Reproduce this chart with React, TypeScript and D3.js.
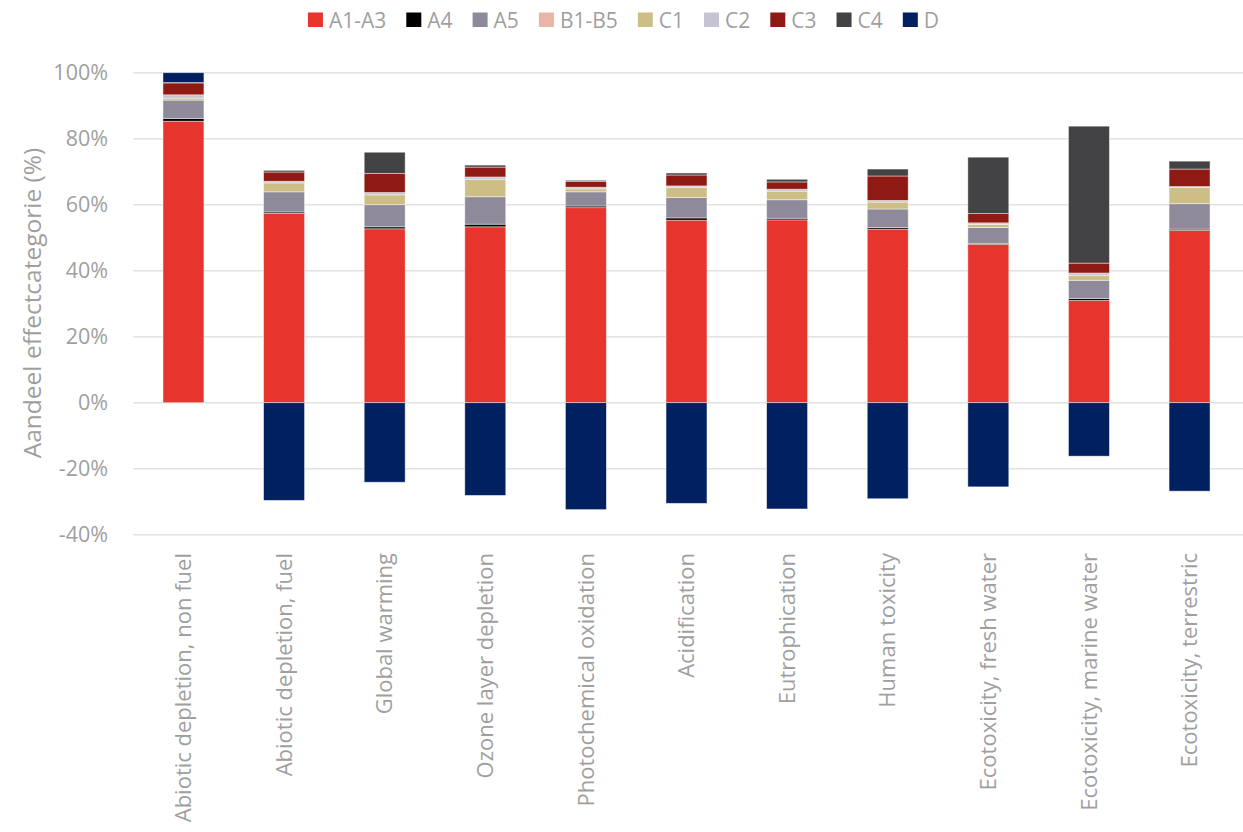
import React, { useEffect, useRef } from 'react';
import * as d3 from 'd3';

const categories = [
  'Abiotic depletion, non fuel',
  'Abiotic depletion, fuel',
  'Global warming',
  'Ozone layer depletion',
  'Photochemical oxidation',
  'Acidification',
  'Eutrophication',
  'Human toxicity',
  'Ecotoxicity, fresh water',
  'Ecotoxicity, marine water',
  'Ecotoxicity, terrestric',
];

const seriesNames = ['A1-A3', 'A4', 'A5', 'B1-B5', 'C1', 'C2', 'C3', 'C4', 'D'];

const a1a3 = [85.3, 57.4, 52.7, 53.3, 59.1, 55.3, 55.4, 52.6, 48.0, 31.0, 52.2];
const a4 = [0.8, 0.4, 0.6, 0.8, 0.5, 0.7, 0.5, 0.5, 0.3, 0.6, 0.4];
const a5 = [5.6, 6.1, 6.7, 8.3, 4.3, 6.2, 5.6, 5.6, 4.8, 5.5, 7.7];
const b1b5 = [0, 0, 0, 0, 0, 0, 0, 0, 0, 0, 0];
const c1 = [0.6, 2.7, 3.0, 5.2, 0.9, 3.0, 2.6, 2.1, 0.9, 1.4, 4.9];
const c2 = [1.0, 0.5, 0.7, 0.8, 0.5, 0.5, 0.6, 0.5, 0.5, 0.8, 0.3];
const c3 = [3.6, 2.8, 5.8, 3.0, 1.8, 3.3, 2.2, 7.4, 2.8, 3.0, 5.3];
const c4 = [0.1, 0.5, 6.4, 0.6, 0.3, 0.6, 0.8, 2.1, 17.1, 41.5, 2.4];
const dValues = [3.0, -29.6, -24.1, -28.1, -32.4, -30.5, -32.2, -29.1, -25.5, -16.2, -26.8];

const yTicks = [-40, -20, 0, 20, 40, 60, 80, 100];

const colors = ['#e7352d', '#000000', '#8e8a9a', '#e8b5a6', '#ccbe85', '#c6c4d3', '#8f1913', '#434345', '#002060'];

const FONT = '"Open Sans", "Segoe UI", sans-serif';
const TEXT_COLOR = '#9f9f9f';

const App = () => {
  const ref = useRef<SVGSVGElement | null>(null);

  useEffect(() => {
    const svg = d3.select(ref.current);
    svg.selectAll('*').remove();

    const width = 1243;
    const height = 832;
    svg.attr('width', width).attr('height', height);

    const seriesValues = [a1a3, a4, a5, b1b5, c1, c2, c3, c4, dValues];
    const rows = categories.map((cat, i) => {
      const row: Record<string, number | string> = { category: cat };
      seriesNames.forEach((s, k) => (row[s] = seriesValues[k][i]));
      return row;
    });

    const x = d3
      .scaleBand()
      .domain(categories)
      .range([133, 1240])
      .paddingInner(0.593)
      .paddingOuter(0.298);

    const y = d3.scaleLinear().domain([-40, 100]).range([534.7, 72.7]);

    // gridlines
    svg
      .append('g')
      .selectAll('line')
      .data(yTicks)
      .enter()
      .append('line')
      .attr('x1', 133)
      .attr('x2', width)
      .attr('y1', (d) => y(d))
      .attr('y2', (d) => y(d))
      .attr('stroke', '#e2e2e2')
      .attr('stroke-width', 1.5);

    // y tick labels
    svg
      .append('g')
      .selectAll('text')
      .data(yTicks)
      .enter()
      .append('text')
      .attr('x', 108)
      .attr('y', (d) => y(d))
      .attr('dy', '0.36em')
      .attr('text-anchor', 'end')
      .attr('font-family', FONT)
      .attr('font-size', 21.5)
      .attr('fill', TEXT_COLOR)
      .text((d) => `${d}%`);

    // y title
    svg
      .append('text')
      .attr('transform', `translate(32,303) rotate(-90)`)
      .attr('dy', '0.35em')
      .attr('text-anchor', 'middle')
      .attr('font-family', FONT)
      .attr('font-size', 24.5)
      .attr('fill', TEXT_COLOR)
      .text('Aandeel effectcategorie (%)');

    // stacked bars
    const stack = d3
      .stack<Record<string, number | string>>()
      .keys(seriesNames)
      .value((d, key) => d[key] as number)
      .offset(d3.stackOffsetDiverging);
    const layers = stack(rows);

    svg
      .append('g')
      .selectAll('g')
      .data(layers)
      .enter()
      .append('g')
      .attr('fill', (_, i) => colors[i])
      .selectAll('rect')
      .data((d) => d.filter((p) => p[1] - p[0] !== 0))
      .enter()
      .append('rect')
      .attr('x', (d) => x(d.data.category as string) ?? 0)
      .attr('width', x.bandwidth())
      .attr('y', (d) => y(Math.max(d[0], d[1])))
      .attr('height', (d) => Math.abs(y(d[0]) - y(d[1])))
      .attr('stroke', 'rgba(255,255,255,0.55)')
      .attr('stroke-width', 0.8);

    // category labels
    svg
      .append('g')
      .selectAll('text')
      .data(categories)
      .enter()
      .append('text')
      .attr('transform', (d) => `translate(${(x(d) ?? 0) + x.bandwidth() / 2},553) rotate(-90)`)
      .attr('dy', '0.35em')
      .attr('text-anchor', 'end')
      .attr('font-family', FONT)
      .attr('font-size', 22)
      .attr('fill', TEXT_COLOR)
      .text((d) => d);

    // legend, centred across the chart
    const legend = svg.append('g');
    let lx = 0;
    seriesNames.forEach((name, i) => {
      const item = legend.append('g').attr('transform', `translate(${lx},0)`);
      item.append('rect').attr('x', 0).attr('y', 12.5).attr('width', 15).attr('height', 14.5).attr('fill', colors[i]);
      const t = item
        .append('text')
        .attr('x', 21)
        .attr('y', 20)
        .attr('dy', '0.36em')
        .attr('font-family', FONT)
        .attr('font-size', 21)
        .attr('fill', TEXT_COLOR)
        .text(name);
      const w = (t.node() as SVGTextElement).getComputedTextLength();
      lx += 21 + w + (i < seriesNames.length - 1 ? 20 : 0);
    });
    legend.attr('transform', `translate(${(width - lx) / 2 + 2},0)`);
  }, []);

  return <svg ref={ref} style={{ position: 'absolute', left: 0, top: 0, display: 'block' }} />;
};

export default App;
